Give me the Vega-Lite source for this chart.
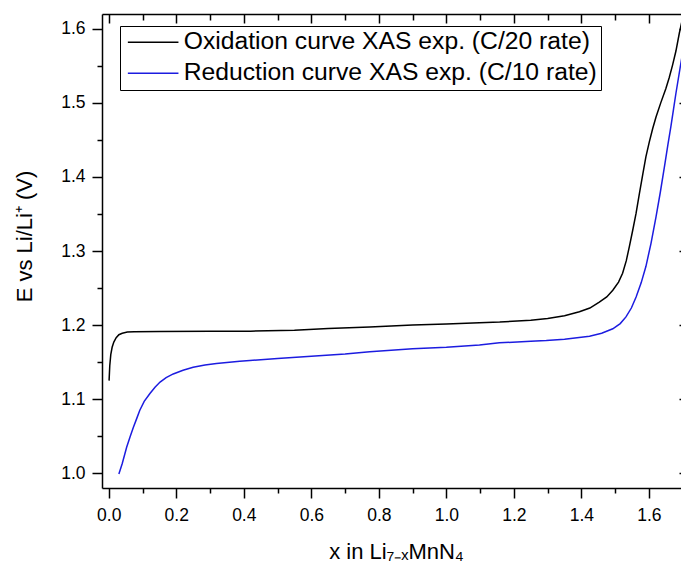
{
  "$schema": "https://vega.github.io/schema/vega-lite/v6.json",
  "width": 579,
  "height": 474,
  "autosize": {"type": "none"},
  "padding": {"left": 102, "top": 14, "right": 0, "bottom": 78},
  "background": "white",
  "config": {
    "view": {"stroke": null},
    "font": "Liberation Sans",
    "axis": {
      "grid": false,
      "domainColor": "black",
      "tickColor": "black",
      "domainWidth": 1.5,
      "tickWidth": 1.5,
      "labelColor": "black",
      "titleColor": "black",
      "labelFont": "Liberation Sans",
      "titleFont": "Liberation Sans",
      "labelFontSize": 17.5,
      "titleFontSize": 22,
      "titleFontWeight": "normal"
    }
  },
  "data": {
    "values": [
      {"s": "Oxidation curve XAS exp. (C/20 rate)", "x": 0.001, "y": 1.125},
      {"s": "Oxidation curve XAS exp. (C/20 rate)", "x": 0.003, "y": 1.145},
      {"s": "Oxidation curve XAS exp. (C/20 rate)", "x": 0.006, "y": 1.16},
      {"s": "Oxidation curve XAS exp. (C/20 rate)", "x": 0.01, "y": 1.17},
      {"s": "Oxidation curve XAS exp. (C/20 rate)", "x": 0.015, "y": 1.177},
      {"s": "Oxidation curve XAS exp. (C/20 rate)", "x": 0.022, "y": 1.183},
      {"s": "Oxidation curve XAS exp. (C/20 rate)", "x": 0.03, "y": 1.187},
      {"s": "Oxidation curve XAS exp. (C/20 rate)", "x": 0.04, "y": 1.189},
      {"s": "Oxidation curve XAS exp. (C/20 rate)", "x": 0.055, "y": 1.1905},
      {"s": "Oxidation curve XAS exp. (C/20 rate)", "x": 0.075, "y": 1.191},
      {"s": "Oxidation curve XAS exp. (C/20 rate)", "x": 0.15, "y": 1.1912},
      {"s": "Oxidation curve XAS exp. (C/20 rate)", "x": 0.3, "y": 1.1915},
      {"s": "Oxidation curve XAS exp. (C/20 rate)", "x": 0.42, "y": 1.1918},
      {"s": "Oxidation curve XAS exp. (C/20 rate)", "x": 0.55, "y": 1.193},
      {"s": "Oxidation curve XAS exp. (C/20 rate)", "x": 0.65, "y": 1.1955},
      {"s": "Oxidation curve XAS exp. (C/20 rate)", "x": 0.773, "y": 1.1975},
      {"s": "Oxidation curve XAS exp. (C/20 rate)", "x": 0.9, "y": 1.2},
      {"s": "Oxidation curve XAS exp. (C/20 rate)", "x": 1.0, "y": 1.2015},
      {"s": "Oxidation curve XAS exp. (C/20 rate)", "x": 1.098, "y": 1.203},
      {"s": "Oxidation curve XAS exp. (C/20 rate)", "x": 1.158, "y": 1.204},
      {"s": "Oxidation curve XAS exp. (C/20 rate)", "x": 1.25, "y": 1.2065},
      {"s": "Oxidation curve XAS exp. (C/20 rate)", "x": 1.3, "y": 1.209},
      {"s": "Oxidation curve XAS exp. (C/20 rate)", "x": 1.35, "y": 1.2125},
      {"s": "Oxidation curve XAS exp. (C/20 rate)", "x": 1.394, "y": 1.218},
      {"s": "Oxidation curve XAS exp. (C/20 rate)", "x": 1.425, "y": 1.223},
      {"s": "Oxidation curve XAS exp. (C/20 rate)", "x": 1.453, "y": 1.231},
      {"s": "Oxidation curve XAS exp. (C/20 rate)", "x": 1.475, "y": 1.238},
      {"s": "Oxidation curve XAS exp. (C/20 rate)", "x": 1.493, "y": 1.247},
      {"s": "Oxidation curve XAS exp. (C/20 rate)", "x": 1.51, "y": 1.258},
      {"s": "Oxidation curve XAS exp. (C/20 rate)", "x": 1.522, "y": 1.27},
      {"s": "Oxidation curve XAS exp. (C/20 rate)", "x": 1.533, "y": 1.287},
      {"s": "Oxidation curve XAS exp. (C/20 rate)", "x": 1.542, "y": 1.306},
      {"s": "Oxidation curve XAS exp. (C/20 rate)", "x": 1.552, "y": 1.328},
      {"s": "Oxidation curve XAS exp. (C/20 rate)", "x": 1.562, "y": 1.351},
      {"s": "Oxidation curve XAS exp. (C/20 rate)", "x": 1.572, "y": 1.378},
      {"s": "Oxidation curve XAS exp. (C/20 rate)", "x": 1.582, "y": 1.404},
      {"s": "Oxidation curve XAS exp. (C/20 rate)", "x": 1.591, "y": 1.427},
      {"s": "Oxidation curve XAS exp. (C/20 rate)", "x": 1.601, "y": 1.447},
      {"s": "Oxidation curve XAS exp. (C/20 rate)", "x": 1.611, "y": 1.465},
      {"s": "Oxidation curve XAS exp. (C/20 rate)", "x": 1.621, "y": 1.481},
      {"s": "Oxidation curve XAS exp. (C/20 rate)", "x": 1.635, "y": 1.5},
      {"s": "Oxidation curve XAS exp. (C/20 rate)", "x": 1.65, "y": 1.519},
      {"s": "Oxidation curve XAS exp. (C/20 rate)", "x": 1.66, "y": 1.534},
      {"s": "Oxidation curve XAS exp. (C/20 rate)", "x": 1.67, "y": 1.551},
      {"s": "Oxidation curve XAS exp. (C/20 rate)", "x": 1.68, "y": 1.57},
      {"s": "Oxidation curve XAS exp. (C/20 rate)", "x": 1.69, "y": 1.594},
      {"s": "Oxidation curve XAS exp. (C/20 rate)", "x": 1.7, "y": 1.615},
      {"s": "Oxidation curve XAS exp. (C/20 rate)", "x": 1.71, "y": 1.64},
      {"s": "Reduction curve XAS exp. (C/10 rate)", "x": 0.03, "y": 0.999},
      {"s": "Reduction curve XAS exp. (C/10 rate)", "x": 0.04, "y": 1.013},
      {"s": "Reduction curve XAS exp. (C/10 rate)", "x": 0.053, "y": 1.035},
      {"s": "Reduction curve XAS exp. (C/10 rate)", "x": 0.063, "y": 1.049},
      {"s": "Reduction curve XAS exp. (C/10 rate)", "x": 0.073, "y": 1.062},
      {"s": "Reduction curve XAS exp. (C/10 rate)", "x": 0.083, "y": 1.074},
      {"s": "Reduction curve XAS exp. (C/10 rate)", "x": 0.092, "y": 1.085},
      {"s": "Reduction curve XAS exp. (C/10 rate)", "x": 0.105, "y": 1.097},
      {"s": "Reduction curve XAS exp. (C/10 rate)", "x": 0.122, "y": 1.1075},
      {"s": "Reduction curve XAS exp. (C/10 rate)", "x": 0.137, "y": 1.116},
      {"s": "Reduction curve XAS exp. (C/10 rate)", "x": 0.152, "y": 1.123},
      {"s": "Reduction curve XAS exp. (C/10 rate)", "x": 0.17, "y": 1.129},
      {"s": "Reduction curve XAS exp. (C/10 rate)", "x": 0.191, "y": 1.134},
      {"s": "Reduction curve XAS exp. (C/10 rate)", "x": 0.22, "y": 1.139},
      {"s": "Reduction curve XAS exp. (C/10 rate)", "x": 0.25, "y": 1.143},
      {"s": "Reduction curve XAS exp. (C/10 rate)", "x": 0.285, "y": 1.146},
      {"s": "Reduction curve XAS exp. (C/10 rate)", "x": 0.319, "y": 1.148},
      {"s": "Reduction curve XAS exp. (C/10 rate)", "x": 0.388, "y": 1.151},
      {"s": "Reduction curve XAS exp. (C/10 rate)", "x": 0.418, "y": 1.152},
      {"s": "Reduction curve XAS exp. (C/10 rate)", "x": 0.5, "y": 1.155},
      {"s": "Reduction curve XAS exp. (C/10 rate)", "x": 0.6, "y": 1.158},
      {"s": "Reduction curve XAS exp. (C/10 rate)", "x": 0.7, "y": 1.161},
      {"s": "Reduction curve XAS exp. (C/10 rate)", "x": 0.773, "y": 1.164},
      {"s": "Reduction curve XAS exp. (C/10 rate)", "x": 0.9, "y": 1.168},
      {"s": "Reduction curve XAS exp. (C/10 rate)", "x": 1.0, "y": 1.17},
      {"s": "Reduction curve XAS exp. (C/10 rate)", "x": 1.098, "y": 1.173},
      {"s": "Reduction curve XAS exp. (C/10 rate)", "x": 1.157, "y": 1.176},
      {"s": "Reduction curve XAS exp. (C/10 rate)", "x": 1.25, "y": 1.178},
      {"s": "Reduction curve XAS exp. (C/10 rate)", "x": 1.296, "y": 1.179},
      {"s": "Reduction curve XAS exp. (C/10 rate)", "x": 1.35, "y": 1.181},
      {"s": "Reduction curve XAS exp. (C/10 rate)", "x": 1.424, "y": 1.185},
      {"s": "Reduction curve XAS exp. (C/10 rate)", "x": 1.46, "y": 1.189},
      {"s": "Reduction curve XAS exp. (C/10 rate)", "x": 1.493, "y": 1.195},
      {"s": "Reduction curve XAS exp. (C/10 rate)", "x": 1.515, "y": 1.202},
      {"s": "Reduction curve XAS exp. (C/10 rate)", "x": 1.532, "y": 1.211},
      {"s": "Reduction curve XAS exp. (C/10 rate)", "x": 1.548, "y": 1.223},
      {"s": "Reduction curve XAS exp. (C/10 rate)", "x": 1.562, "y": 1.238},
      {"s": "Reduction curve XAS exp. (C/10 rate)", "x": 1.577, "y": 1.257},
      {"s": "Reduction curve XAS exp. (C/10 rate)", "x": 1.591, "y": 1.279},
      {"s": "Reduction curve XAS exp. (C/10 rate)", "x": 1.606, "y": 1.31},
      {"s": "Reduction curve XAS exp. (C/10 rate)", "x": 1.621, "y": 1.346},
      {"s": "Reduction curve XAS exp. (C/10 rate)", "x": 1.634, "y": 1.38},
      {"s": "Reduction curve XAS exp. (C/10 rate)", "x": 1.646, "y": 1.414},
      {"s": "Reduction curve XAS exp. (C/10 rate)", "x": 1.656, "y": 1.443},
      {"s": "Reduction curve XAS exp. (C/10 rate)", "x": 1.665, "y": 1.468},
      {"s": "Reduction curve XAS exp. (C/10 rate)", "x": 1.673, "y": 1.492},
      {"s": "Reduction curve XAS exp. (C/10 rate)", "x": 1.68, "y": 1.513},
      {"s": "Reduction curve XAS exp. (C/10 rate)", "x": 1.693, "y": 1.549},
      {"s": "Reduction curve XAS exp. (C/10 rate)", "x": 1.7, "y": 1.568},
      {"s": "Reduction curve XAS exp. (C/10 rate)", "x": 1.715, "y": 1.6}
    ]
  },
  "layer": [
    {
      "mark": {"type": "line", "strokeWidth": 1.5, "clip": true},
      "encoding": {
        "x": {
          "field": "x", "type": "quantitative",
          "scale": {"domain": [-0.02, 1.695], "nice": false, "zero": false},
          "axis": {
            "orient": "bottom",
            "values": [0, 0.2, 0.4, 0.6, 0.8, 1.0, 1.2, 1.4, 1.6],
            "format": ".1f",
            "tickSize": 10,
            "labelPadding": 8,
            "labelFlush": false,
            "labelOverlap": false,
            "title": "x in Li₇₋ₓMnN₄",
            "titleX": 294,
            "titleY": 70,
            "titleBaseline": "alphabetic",
            "titleAlign": "center"
          }
        },
        "y": {
          "field": "y", "type": "quantitative",
          "scale": {"domain": [0.98, 1.62], "nice": false, "zero": false},
          "axis": {
            "orient": "left",
            "values": [1.0, 1.1, 1.2, 1.3, 1.4, 1.5, 1.6],
            "format": ".1f",
            "tickSize": 10,
            "labelPadding": 7,
            "labelFlush": false,
            "labelOverlap": false,
            "title": "E vs Li/Li⁺ (V)",
            "titleX": -78,
            "titleY": 222,
            "titleAngle": -90,
            "titleBaseline": "middle",
            "titleAlign": "center"
          }
        },
        "color": {
          "field": "s", "type": "nominal",
          "sort": ["Oxidation curve XAS exp. (C/20 rate)", "Reduction curve XAS exp. (C/10 rate)"],
          "scale": {
            "domain": ["Oxidation curve XAS exp. (C/20 rate)", "Reduction curve XAS exp. (C/10 rate)"],
            "range": ["#000000", "#1c1ce0"]
          },
          "legend": {
            "title": null,
            "orient": "none",
            "legendX": 18,
            "legendY": 12,
            "strokeColor": "black",
            "fillColor": "white",
            "padding": 4,
            "cornerRadius": 0,
            "symbolType": "M-5,0H4.2",
            "symbolSize": 121,
            "symbolStrokeWidth": 1.5,
            "symbolOffset": 19,
            "labelOffset": 16,
            "labelFontSize": 24.7,
            "labelFont": "Liberation Sans",
            "labelColor": "black",
            "labelLimit": 0,
            "rowPadding": 5
          }
        }
      }
    },
    {
      "mark": {"type": "line", "opacity": 0},
      "encoding": {
        "detail": {"field": "s"},
        "x": {
          "field": "x", "type": "quantitative",
          "scale": {"domain": [-0.02, 1.695], "nice": false, "zero": false},
          "axis": {"orient": "bottom", "values": [0.1, 0.3, 0.5, 0.7, 0.9, 1.1, 1.3, 1.5], "tickSize": 5, "labels": false, "domain": false, "title": null}
        },
        "y": {
          "field": "y", "type": "quantitative",
          "scale": {"domain": [0.98, 1.62], "nice": false, "zero": false},
          "axis": {"orient": "left", "values": [1.05, 1.15, 1.25, 1.35, 1.45, 1.55], "tickSize": 5, "labels": false, "domain": false, "title": null}
        }
      }
    },
    {
      "mark": {"type": "line", "opacity": 0},
      "encoding": {
        "detail": {"field": "s"},
        "x": {
          "field": "x", "type": "quantitative",
          "scale": {"domain": [-0.02, 1.695], "nice": false, "zero": false},
          "axis": {"orient": "top", "values": [0, 0.2, 0.4, 0.6, 0.8, 1.0, 1.2, 1.4, 1.6], "tickSize": -9, "labels": false, "domain": true, "title": null}
        },
        "y": {
          "field": "y", "type": "quantitative",
          "scale": {"domain": [0.98, 1.62], "nice": false, "zero": false},
          "axis": {"orient": "right", "values": [1.0, 1.1, 1.2, 1.3, 1.4, 1.5, 1.6], "tickSize": -2, "labels": false, "domain": false, "title": null}
        }
      }
    },
    {
      "mark": {"type": "line", "opacity": 0},
      "encoding": {
        "detail": {"field": "s"},
        "x": {
          "field": "x", "type": "quantitative",
          "scale": {"domain": [-0.02, 1.695], "nice": false, "zero": false},
          "axis": {"orient": "top", "values": [0.1, 0.3, 0.5, 0.7, 0.9, 1.1, 1.3, 1.5], "tickSize": -6, "labels": false, "domain": false, "title": null}
        },
        "y": {
          "field": "y", "type": "quantitative",
          "scale": {"domain": [0.98, 1.62], "nice": false, "zero": false},
          "axis": {"orient": "right", "values": [1.05, 1.15, 1.25, 1.35, 1.45, 1.55], "tickSize": 0, "labels": false, "domain": false, "title": null}
        }
      }
    }
  ],
  "resolve": {"axis": {"x": "independent", "y": "independent"}}
}
